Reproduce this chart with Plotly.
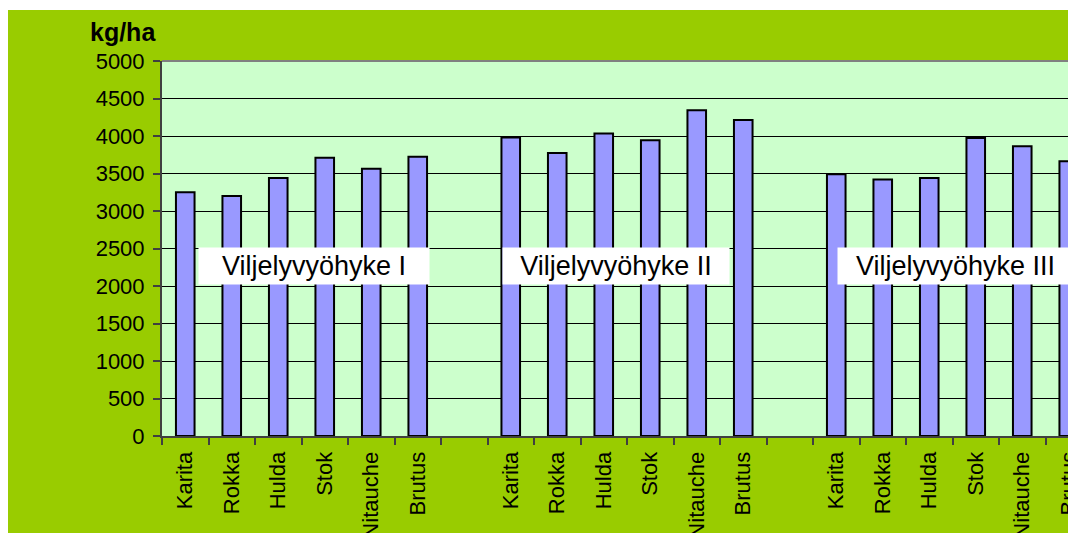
import plotly.graph_objects as go

# ---- data ----
zones = ["Viljelyvyöhyke I", "Viljelyvyöhyke II", "Viljelyvyöhyke III"]
varieties = ["Karita", "Rokka", "Hulda", "Stok", "Nitauche", "Brutus"]
zone1 = [3250, 3200, 3440, 3710, 3565, 3725]
zone2 = [3980, 3775, 4035, 3945, 4345, 4215]
zone3 = [3490, 3420, 3440, 3975, 3865, 3665]
y_ticks = list(range(0, 5001, 500))
y_title = "kg/ha"

# page body has an 8px margin, so the figure starts at (8, 8);
# the chart continues a little past the right edge of the window
W, H = 1076, 525
L, R, T, B = 154, 0, 53, 97
pw, ph = W - L - R, H - T - B
slot = 46.5

font = "Liberation Sans, Arial, sans-serif"

cat_ids, cat_text = [], []
xs, ys = [], []
for zi, (z, vals) in enumerate(zip(zones, [zone1, zone2, zone3])):
    if zi > 0:
        cat_ids.append(f"gap{zi}")
        cat_text.append("")
    for v, val in zip(varieties, vals):
        cid = f"{z}|{v}"
        cat_ids.append(cid)
        cat_text.append(v)
        xs.append(cid)
        ys.append(val)

fig = go.Figure()
fig.add_trace(go.Bar(
    x=xs, y=ys,
    marker=dict(color="#9999FF", line=dict(color="black", width=2)),
    hoverinfo="skip",
))

def px2paper_x(px):
    # px given in screenshot coordinates
    return (px - 8 - L) / pw

def px2paper_y(py):
    return (H - B - (py - 8)) / ph

shapes = [
    dict(type="rect", xref="paper", yref="paper", x0=-1, x1=2,
         y0=px2paper_y(10), y1=px2paper_y(-50), fillcolor="white",
         line=dict(width=0), layer="above"),
    dict(type="line", xref="paper", yref="paper", x0=0, x1=1, y0=1, y1=1,
         line=dict(color="#808080", width=2), layer="above"),
]

box_centers = [314, 615.5, 955.7]
box_widths = [230, 226, 235]
annotations = []
for z, cx, bw in zip(zones, box_centers, box_widths):
    annotations.append(dict(
        text=z, xref="paper", yref="paper",
        x=px2paper_x(cx), y=px2paper_y(265.5),
        xanchor="center", yanchor="middle", showarrow=False,
        bgcolor="white", width=bw, height=36, borderpad=0,
        font=dict(family=font, size=27, color="black"),
    ))
annotations.append(dict(
    text=f"<b>{y_title}</b>", xref="paper", yref="paper",
    x=px2paper_x(158), y=px2paper_y(32), xanchor="right", yanchor="middle",
    showarrow=False, font=dict(family=font, size=25, color="black"),
))

fig.update_layout(
    width=W, height=H,
    margin=dict(l=L, r=R, t=T, b=B, pad=0, autoexpand=False),
    paper_bgcolor="#99CC00",
    plot_bgcolor="#CCFFCC",
    bargap=0.6,
    showlegend=False,
    shapes=shapes,
    annotations=annotations,
    font=dict(family=font, color="black"),
)
fig.update_xaxes(
    automargin=False,
    type="category", categoryorder="array", categoryarray=cat_ids,
    tickmode="array", tickvals=cat_ids, ticktext=cat_text,
    tickson="boundaries", ticks="outside", ticklen=7, tickcolor="#404040",
    tickwidth=1.5, tickangle=-90, ticklabelstandoff=5,
    tickfont=dict(family=font, size=22, color="black"),
    range=[-0.5, -0.5 + pw / slot],
    showline=True, linecolor="#404040", linewidth=2,
    showgrid=False, zeroline=False, fixedrange=True,
)
fig.update_yaxes(
    automargin=False,
    range=[0, 5000], tickmode="array", tickvals=y_ticks,
    ticks="outside", ticklen=7, tickcolor="#404040", tickwidth=1.5,
    ticklabelstandoff=4,
    tickfont=dict(family=font, size=22, color="black"),
    showline=True, linecolor="#404040", linewidth=2,
    showgrid=True, gridcolor="black", gridwidth=1,
    zeroline=False, fixedrange=True,
)

fig.write_html("out.html")
